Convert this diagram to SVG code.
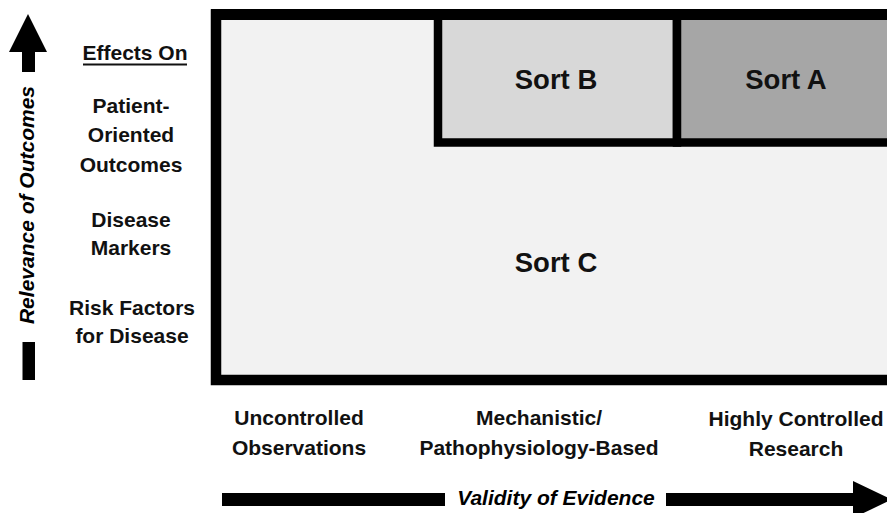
<svg xmlns="http://www.w3.org/2000/svg" width="887" height="513" viewBox="0 0 887 513">
<style>
  .lbl{font-family:"Liberation Sans",Arial,sans-serif;font-weight:bold;font-size:21px;fill:#111;text-anchor:middle}
  .sort{font-family:"Liberation Sans",Arial,sans-serif;font-weight:bold;font-size:27.5px;fill:#111;text-anchor:middle}
  .axis{font-family:"Liberation Sans",Arial,sans-serif;font-weight:bold;font-style:italic;font-size:21px;fill:#000;text-anchor:middle}
  .box{stroke:#000;stroke-width:10.5}
</style>
<rect width="887" height="513" fill="#fff"/>
<g id="sort-c">
  <rect class="box" x="216" y="14.5" width="700" height="365.5" fill="#f2f2f2"/>
  <text class="sort" x="556" y="272">Sort C</text>
</g>
<g id="sort-b">
  <rect x="438" y="14.5" width="239" height="128" fill="#d8d8d8" stroke="#000" stroke-width="8.5"/>
  <text class="sort" x="556" y="89">Sort B</text>
</g>
<g id="sort-a">
  <rect x="677" y="14.5" width="240" height="128" fill="#a6a6a6" stroke="#000" stroke-width="8.5"/>
  <text class="sort" x="786" y="89">Sort A</text>
</g>
<g id="frame-top">
  <rect x="211" y="9" width="676" height="11" fill="#000"/>
</g>
<g id="y-labels">
  <text class="lbl" x="135" y="60">Effects On</text>
  <line x1="83" y1="64.5" x2="187" y2="64.5" stroke="#111" stroke-width="1.8"/>
  <text class="lbl" x="131" y="113">Patient-</text>
  <text class="lbl" x="131" y="142">Oriented</text>
  <text class="lbl" x="131" y="172">Outcomes</text>
  <text class="lbl" x="131" y="227">Disease</text>
  <text class="lbl" x="131" y="255">Markers</text>
  <text class="lbl" x="132" y="315">Risk Factors</text>
  <text class="lbl" x="132" y="343">for Disease</text>
</g>
<g id="x-labels">
  <text class="lbl" x="299" y="425">Uncontrolled</text>
  <text class="lbl" x="299" y="455">Observations</text>
  <text class="lbl" x="539" y="425">Mechanistic/</text>
  <text class="lbl" x="539" y="455">Pathophysiology-Based</text>
  <text class="lbl" x="796" y="426">Highly Controlled</text>
  <text class="lbl" x="796" y="456">Research</text>
</g>
<g id="connectors">
  <g id="y-axis">
    <polygon points="28,14 47,52 35,52 35,72 22,72 22,52 9,52" fill="#000"/>
    <rect x="22.5" y="342" width="12.5" height="38" fill="#000"/>
    <text class="axis" transform="translate(34,205) rotate(-90)">Relevance of Outcomes</text>
  </g>
  <g id="x-axis">
    <rect x="222" y="493" width="223" height="13" fill="#000"/>
    <polygon points="666,493 853,493 853,481 892,499.5 853,518 853,506 666,506" fill="#000"/>
    <text class="axis" x="556" y="505">Validity of Evidence</text>
  </g>
</g>
</svg>
